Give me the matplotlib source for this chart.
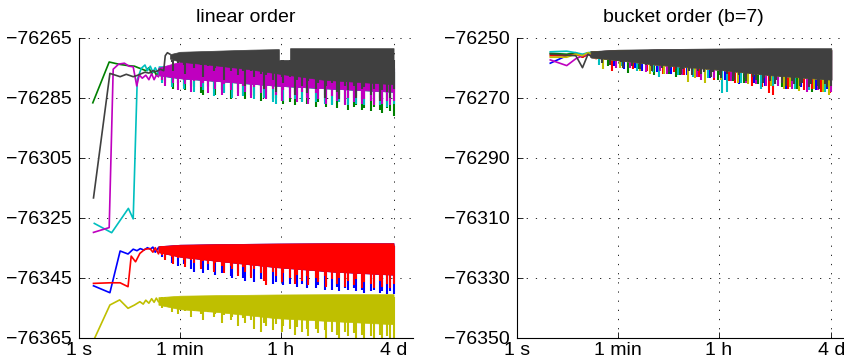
import numpy as np
import matplotlib
matplotlib.use("Agg")
import matplotlib.pyplot as plt

plt.rcParams['font.family'] = ['Liberation Sans', 'DejaVu Sans']
plt.rcParams['font.size'] = 14

# ---------------- shared axes data ----------------
XTICKS = [1, 60, 3600, 345600]
XTICKLABELS = ['1 s', '1 min', '1 h', '4 d']
YTICKS_L = [-76365, -76345, -76325, -76305, -76285, -76265]
YTICKS_R = [-76350, -76330, -76310, -76290, -76270, -76250]
TITLES = ['linear order', 'bucket order (b=7)']

COLORS = {'blue': (0, 0, 1), 'green': (0, 0.5, 0), 'red': (1, 0, 0),
          'cyan': (0, 0.75, 0.75), 'magenta': (0.75, 0, 0.75),
          'yellow': (0.75, 0.75, 0), 'grey': (0.25, 0.25, 0.25)}
ORDER = ['blue', 'green', 'red', 'cyan', 'magenta', 'yellow', 'grey']

ENV_T = [29.5, 32.4, 42.7, 44.7, 56.2, 70.0, 74.1, 95.5, 108, 141, 151, 186, 234, 245,
         327, 363, 479, 495, 638, 776, 832, 1072, 1202, 1585, 1778, 1972, 2630, 2884,
         3758, 3890, 5129, 6310, 6761, 8318, 10471, 10965, 14622, 16218, 21380, 22387,
         28510, 35075, 37154, 47863, 54325, 70795, 75858, 95499, 105925, 138038,
         154882, 199526, 213796, 269153, 295121, 345600]

# ---------------- left panel: linear order ----------------
BAND_T_L = [25, 60, 300, 3000, 30000, 345600]

L_blue_t = [1.8, 3.5, 5.3, 7.3, 9.0, 10.5, 12, 14, 16, 18, 20, 22, 25]
L_blue_v = [-76347.7, -76350, -76336.1, -76337.1, -76335.5, -76336, -76335.3, -76335.8,
            -76335, -76335.5, -76334.8, -76336.5, -76335]
L_blue_top = [-76334.5, -76334, -76333.8, -76333.6, -76333.5, -76333.5]
L_blue_core = [-76336.5, -76338, -76339.5, -76341.5, -76343, -76344]
L_blue_low = [-76338, -76338.5, -76340, -76339, -76341, -76340.5, -76340, -76342,
              -76343, -76341, -76343.5, -76342.5, -76342, -76344, -76343.5, -76342.5,
              -76344.5, -76345, -76343.5, -76345, -76346, -76344.5, -76346.5, -76345.5,
              -76345, -76346, -76347, -76346.5, -76345.5, -76347.5, -76347, -76346,
              -76348, -76347, -76348.5, -76347, -76348.5, -76347.5, -76349, -76347.5,
              -76349, -76348, -76349.5, -76348.5, -76349, -76348.5, -76349.5, -76349,
              -76350, -76349.5, -76349, -76350, -76349.5, -76350.5, -76349.5, -76350.5]

L_green_t = [1.75, 3.4, 5.2, 7.3, 9.5, 11, 13, 15, 17, 19, 21, 23, 25]
L_green_v = [-76286.7, -76273.1, -76273.9, -76274.3, -76274.5, -76275, -76275.5, -76276,
             -76275, -76277, -76276, -76277.5, -76276.5]
L_green_top = [-76275, -76275, -76275, -76275.5, -76276, -76276.5]
L_green_core = [-76277.5, -76278.5, -76279.5, -76281, -76282, -76283]
L_green_low = [-76279.5, -76280, -76280, -76282, -76280, -76281, -76282.5, -76281,
               -76281.5, -76283.5, -76284, -76281.5, -76282, -76284, -76282.5, -76283,
               -76285.5, -76283, -76283.5, -76284, -76285.5, -76284, -76284.5, -76286,
               -76284.5, -76285, -76285.5, -76285, -76286, -76287, -76286.5, -76287.5,
               -76285.5, -76286, -76287, -76286, -76288, -76286.5, -76286, -76288,
               -76287, -76288.5, -76286.5, -76287, -76289, -76288, -76287.5, -76289,
               -76288.5, -76289.5, -76288, -76289, -76290, -76288.5, -76289.5, -76291]

L_red_t = [1.8, 3.5, 5.3, 7.3, 8.3, 9.9, 11.8, 14.5, 17.8, 20, 22, 25]
L_red_v = [-76346.9, -76346.7, -76346.7, -76348, -76337.8, -76339.7, -76336.9, -76335.5,
           -76335.3, -76336.5, -76335, -76337]
L_red_top = [-76334.5, -76334, -76333.8, -76333.6, -76333.5, -76333.5]
L_red_core = [-76336.5, -76338, -76339.5, -76341.5, -76343, -76344]
L_red_low = [-76337.5, -76339, -76338, -76340.5, -76338.5, -76339, -76341.5, -76339,
             -76340, -76342, -76339.5, -76340.5, -76343, -76340, -76341, -76343.5,
             -76341, -76342, -76344.5, -76341.5, -76343, -76345, -76342, -76343.5,
             -76346, -76347.5, -76343, -76344.5, -76346.5, -76343.5, -76345, -76347,
             -76344, -76346, -76344.5, -76347.5, -76345, -76346.5, -76344.5, -76348,
             -76345.5, -76347, -76345, -76348, -76346, -76347.5, -76345.5, -76348.5,
             -76346.5, -76347, -76348.5, -76346, -76348, -76347, -76348.5, -76347]

L_cyan_t = [1.86, 3.76, 7.4, 9.0, 10.6, 12.5, 14.5, 16, 18, 20, 22, 25]
L_cyan_v = [-76326.9, -76330, -76321.9, -76325.4, -76279, -76275.2, -76274.1, -76276,
            -76274.5, -76276.5, -76275, -76277]
L_cyan_top = [-76274.5, -76274.5, -76274.5, -76274.5, -76275, -76275.5]
L_cyan_core = [-76277.5, -76278.5, -76279.5, -76281, -76282, -76283]
L_cyan_low = [-76280, -76279.5, -76281.5, -76279, -76280, -76282, -76279.5, -76280.5,
              -76283, -76280, -76282.5, -76281, -76284.5, -76281, -76282, -76283.5,
              -76281.5, -76285, -76282, -76284.5, -76282, -76283, -76285.5, -76282.5,
              -76285, -76283, -76286.5, -76287, -76284, -76286, -76283.5, -76285.5,
              -76284, -76286.5, -76284, -76285, -76286.5, -76284.5, -76287, -76285,
              -76287.5, -76285, -76286.5, -76285.5, -76287.5, -76285, -76287, -76285.5,
              -76287.5, -76286, -76286.5, -76287.5, -76286, -76288, -76286.5, -76287]

L_magenta_t = [1.8, 3.4, 4.0, 5.0, 6.3, 7.6, 9.0, 10.4, 11.5, 13, 15, 17, 19, 21, 23, 25]
L_magenta_v = [-76329.9, -76328.3, -76275.5, -76273.8, -76273.5, -76274.5, -76274.7,
               -76281.1, -76277.4, -76278.5, -76277.5, -76279, -76277, -76279, -76277.5,
               -76278]
L_magenta_top = [-76275, -76273, -76273, -76273.5, -76273.5, -76274]
L_magenta_core = [-76277.5, -76278.5, -76279.5, -76281, -76282, -76283]
L_magenta_low = [-76279, -76281, -76278.5, -76280, -76282.5, -76279, -76280.5, -76283,
                 -76279.5, -76281.5, -76280, -76283.5, -76279.5, -76282, -76284,
                 -76280.5, -76282.5, -76280, -76284.5, -76281, -76283, -76285, -76281.5,
                 -76283.5, -76281, -76285.5, -76282, -76284, -76286, -76282.5, -76285,
                 -76283, -76286.5, -76283, -76285, -76287, -76283.5, -76285.5, -76284,
                 -76287, -76284.5, -76286, -76284, -76287.5, -76285, -76286.5, -76284.5,
                 -76287, -76285.5, -76286, -76287.5, -76285, -76287, -76286, -76287.5,
                 -76286]

L_yellow_t = [1.85, 3.5, 5.2, 7.3, 9.5, 11.8, 13.5, 15, 17, 19, 21, 23, 25]
L_yellow_v = [-76365.5, -76354.1, -76352.4, -76355.2, -76354.1, -76353, -76353.8,
              -76352.5, -76353.5, -76352, -76353.2, -76351.8, -76353]
L_yellow_top = [-76351.5, -76351, -76350.8, -76350.6, -76350.5, -76350.5]
L_yellow_core = [-76354, -76355.5, -76356.5, -76358.5, -76359.5, -76360.5]
L_yellow_low = [-76355, -76354.5, -76356.5, -76355, -76357, -76355.5, -76356, -76358,
                -76356, -76357, -76359, -76356.5, -76358, -76357, -76360, -76357.5,
                -76359, -76358, -76361, -76358.5, -76360, -76359, -76362, -76363,
                -76360, -76361, -76362.5, -76360.5, -76363, -76361, -76362, -76364,
                -76361.5, -76363, -76362, -76364.5, -76362, -76363.5, -76362.5, -76365,
                -76363, -76364, -76365.5, -76363, -76364.5, -76363.5, -76365.5, -76364,
                -76365.5, -76364.5, -76365.5, -76364, -76365.5, -76364.5, -76365.5,
                -76365.5]

L_grey_t = [1.8, 3.5, 5.3, 6.8, 9.0, 10.5, 12.5, 14.5, 17, 20, 23, 27, 31, 33, 36, 40]
L_grey_v = [-76318.4, -76276.9, -76278, -76277.2, -76278, -76277.6, -76277, -76276.5,
            -76276.8, -76276, -76276.3, -76275.5, -76276, -76271, -76270, -76270.5]
L_grey_band_t = [40, 60, 200, 1000, 3300, 3310, 5190, 5200, 20000, 345600]
L_grey_top = [-76270.5, -76269.7, -76269.4, -76269.0, -76268.8, -76272.4, -76272.4,
              -76268.5, -76268.5, -76268.5]
L_grey_core = [-76272, -76273, -76274, -76275.5, -76277, -76277, -76277.5,
               -76277.5, -76279, -76280.5]
L_grey_low = [np.nan, np.nan, -76273, -76276, -76273.5, -76274, -76277, -76273.5,
              -76275, -76274, -76278, -76274.5, -76276, -76275, -76274.5, -76279,
              -76276, -76275, -76277.5, -76276, -76281, -76276, -76278, -76277,
              -76282, -76277.5, -76279, -76283, -76278, -76280, -76278, -76284,
              -76279, -76281, -76283.5, -76279.5, -76282, -76280, -76285, -76281,
              -76280, -76283, -76285.5, -76281, -76282.5, -76281, -76285, -76282,
              -76281.5, -76284, -76282, -76286, -76282.5, -76283, -76285, -76282]

# ---------------- right panel: bucket order ----------------
R_EARLY_T = [3.9, 7.6, 11, 14.4, 18, 21.6, 25, 28]
BAND_T_R = [20, 60, 300, 3000, 30000, 345600]

R_blue_v = [-76258.5, -76256, -76255.5, -76256, -76255, -76255.5, -76256, -76255.5]
R_green_v = [-76255.2, -76255.5, -76255, -76256.5, -76255.5, -76256, -76255, -76256]
R_red_v = [-76256, -76256, -76255.5, -76256.5, -76255.5, -76256, -76257, -76256]
R_cyan_v = [-76254.7, -76254.5, -76255, -76255.5, -76255, -76254.8, -76255.5, -76255]
R_magenta_v = [-76257.4, -76259.3, -76257, -76256, -76255.5, -76256, -76255.5, -76256]
R_yellow_v = [-76256.5, -76256.5, -76255.5, -76256, -76255, -76255.5, -76256.5, -76255.5]
R_grey_v = [-76255.5, -76255.8, -76256, -76260, -76255.5, -76256.5, -76255.5, -76256]

R_grey_top = [-76254.5, -76254, -76253.8, -76253.6, -76253.5, -76253.5]
R_col_top = [-76254.5, -76254.2, -76254, -76254, -76254, -76254]
R_core = [-76256.5, -76257.5, -76259, -76260.5, -76262.5, -76264]
R_grey_low = [-76257, -76258.5, -76257, -76259, -76257.5, -76258, -76260, -76258,
              -76259.5, -76258.5, -76260.5, -76259, -76259.5, -76261, -76259, -76260,
              -76261.5, -76260, -76260.5, -76262, -76260.5, -76261, -76262.5, -76261,
              -76262, -76261.5, -76263, -76261.5, -76262.5, -76263.5, -76262, -76263,
              -76264, -76262.5, -76263.5, -76264.5, -76263, -76264, -76265, -76263.5,
              -76264.5, -76265.5, -76264, -76265, -76266, -76264.5, -76265.5, -76266,
              -76265, -76266.5, -76265.5, -76266, -76267, -76265.5, -76266.5, -76266]

R_blue_st = [52, 79, 120, 158, 300, 525, 980, 1700, 2512, 4600, 8318, 15000, 23442,
             40000, 56234, 100000, 186209, 290000]
R_blue_sv = [-76259.5, -76260.5, -76260, -76261, -76261.5, -76262, -76262.5, -76263,
             -76263.5, -76264, -76265.5, -76265, -76266, -76265.5, -76267, -76266.5,
             -76267.5, -76267]
R_green_st = [40, 93, 140, 263, 480, 631, 741, 1300, 3548, 6500, 10000, 18000, 46774,
              85000, 158489, 240000]
R_green_sv = [-76259.5, -76261.7, -76260.5, -76262.4, -76262, -76263, -76262.5, -76263,
              -76264, -76264.5, -76265, -76265.5, -76266.5, -76267, -76268, -76267.5]
R_red_st = [47, 112, 200, 372, 600, 891, 1600, 2951, 5500, 7079, 14125, 21000, 28184,
            33113, 60000, 112202, 160000, 223872, 330000]
R_red_sv = [-76261, -76260.5, -76261, -76262, -76261.5, -76262.5, -76263, -76264,
            -76264.5, -76265, -76266, -76266.5, -76268.5, -76269, -76267, -76267.5,
            -76267, -76268, -76268.5]
R_cyan_st = [28, 70, 132, 250, 316, 700, 1259, 2300, 4169, 5012, 9000, 19953, 32000,
             79433, 140000, 263027]
R_cyan_sv = [-76259, -76259.5, -76261, -76261.5, -76263, -76262.5, -76263, -76263.5,
             -76268.5, -76268, -76265, -76267, -76266, -76267, -76267.5, -76268]
R_magenta_st = [56, 100, 186, 330, 447, 820, 1479, 1778, 3000, 5888, 11000, 16596,
                25000, 39811, 70000, 131826, 200000, 340000]
R_magenta_sv = [-76260, -76260, -76261.5, -76261, -76262, -76262.5, -76263, -76264,
                -76263.5, -76264.5, -76265, -76265.5, -76266, -76266, -76267, -76268.2,
                -76267.5, -76268]
R_yellow_st = [33, 66, 150, 224, 400, 1047, 1400, 2089, 3900, 7800, 11750, 30000, 50000,
               66069, 93325, 175000, 250000, 316228]
R_yellow_sv = [-76260.5, -76260, -76261, -76262, -76262, -76264.7, -76263.5, -76265,
               -76264, -76265, -76265.5, -76266, -76267, -76266.5, -76267.8, -76267,
               -76268, -76269]

# ---------------- drawing ----------------
LW = 1.2     # early-run line width
SLW = 1.5    # width of the vertical excursion strokes


def draw_series(ax, z, color, et, ev, bt, top, core, st, sv):
    ax.plot(et, ev, color=color, lw=LW, zorder=z)
    ax.fill_between(bt, core, top, color=color, lw=0.5, ec=color, zorder=z)
    ax.vlines(st, sv, min(top), color=color, lw=SLW, zorder=z)


fig = plt.figure(figsize=(8.45, 3.61), dpi=100)
axL = fig.add_axes([79 / 845, 23.3 / 361, 334 / 845, 300 / 361])
axR = fig.add_axes([516.7 / 845, 23.3 / 361, 334 / 845, 300 / 361])

left = {
    'blue': (L_blue_t, L_blue_v, BAND_T_L, L_blue_top, L_blue_core, ENV_T, L_blue_low),
    'green': (L_green_t, L_green_v, BAND_T_L, L_green_top, L_green_core, ENV_T, L_green_low),
    'red': (L_red_t, L_red_v, BAND_T_L, L_red_top, L_red_core, ENV_T, L_red_low),
    'cyan': (L_cyan_t, L_cyan_v, BAND_T_L, L_cyan_top, L_cyan_core, ENV_T, L_cyan_low),
    'magenta': (L_magenta_t, L_magenta_v, BAND_T_L, L_magenta_top, L_magenta_core, ENV_T, L_magenta_low),
    'yellow': (L_yellow_t, L_yellow_v, BAND_T_L, L_yellow_top, L_yellow_core, ENV_T, L_yellow_low),
    'grey': (L_grey_t, L_grey_v, L_grey_band_t, L_grey_top, L_grey_core, ENV_T, L_grey_low),
}
right = {
    'blue': (R_EARLY_T, R_blue_v, BAND_T_R, R_col_top, R_core, R_blue_st, R_blue_sv),
    'green': (R_EARLY_T, R_green_v, BAND_T_R, R_col_top, R_core, R_green_st, R_green_sv),
    'red': (R_EARLY_T, R_red_v, BAND_T_R, R_col_top, R_core, R_red_st, R_red_sv),
    'cyan': (R_EARLY_T, R_cyan_v, BAND_T_R, R_col_top, R_core, R_cyan_st, R_cyan_sv),
    'magenta': (R_EARLY_T, R_magenta_v, BAND_T_R, R_col_top, R_core, R_magenta_st, R_magenta_sv),
    'yellow': (R_EARLY_T, R_yellow_v, BAND_T_R, R_col_top, R_core, R_yellow_st, R_yellow_sv),
    'grey': (R_EARLY_T, R_grey_v, BAND_T_R, R_grey_top, R_core, ENV_T, R_grey_low),
}

for ax, data, yt, title in [(axL, left, YTICKS_L, TITLES[0]), (axR, right, YTICKS_R, TITLES[1])]:
    for i, name in enumerate(ORDER):
        draw_series(ax, 2 + i, COLORS[name], *data[name])
    ax.set_xscale('log')
    ax.set_xlim(1, 7.6e5)
    ax.set_ylim(yt[0], yt[-1])
    ax.set_xticks(XTICKS)
    ax.set_xticklabels(XTICKLABELS)
    ax.set_yticks(yt)
    ax.set_yticklabels([f"\u2212{abs(v)}" for v in yt])
    ax.xaxis.set_minor_locator(matplotlib.ticker.NullLocator())
    ax.spines['top'].set_visible(False)
    ax.spines['right'].set_visible(False)
    for s in ('left', 'bottom'):
        ax.spines[s].set_linewidth(0.8)
        ax.spines[s].set_zorder(20)
    ax.tick_params(direction='in', length=4, width=0.6, labelsize=14)
    ax.tick_params(axis='x', pad=3)
    ax.tick_params(axis='y', pad=5)
    ax.grid(True, which='major', color='k', linestyle=(0, (1.5, 9.5)), lw=0.6, zorder=1)
    ax.set_axisbelow(True)
    ax.set_title(title, fontsize=14, pad=11)

fig.savefig('out.png', dpi=100)
